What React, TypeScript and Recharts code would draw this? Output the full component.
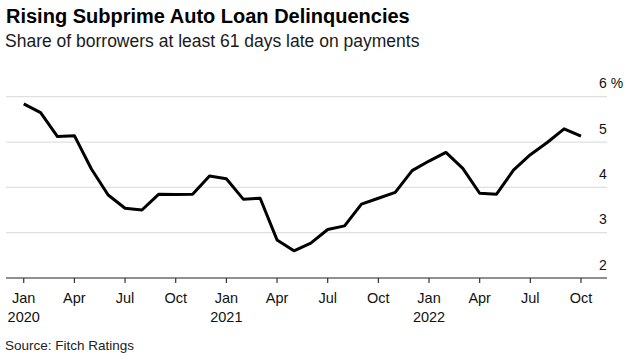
import React from "react";
import { LineChart, Line, XAxis, YAxis, CartesianGrid } from "recharts";

const monthLabels = [
  "Jan 2020", "Feb 2020", "Mar 2020", "Apr 2020", "May 2020", "Jun 2020",
  "Jul 2020", "Aug 2020", "Sep 2020", "Oct 2020", "Nov 2020", "Dec 2020",
  "Jan 2021", "Feb 2021", "Mar 2021", "Apr 2021", "May 2021", "Jun 2021",
  "Jul 2021", "Aug 2021", "Sep 2021", "Oct 2021", "Nov 2021", "Dec 2021",
  "Jan 2022", "Feb 2022", "Mar 2022", "Apr 2022", "May 2022", "Jun 2022",
  "Jul 2022", "Aug 2022", "Sep 2022", "Oct 2022",
];

const delinquencyRate = [
  5.84, 5.65, 5.12, 5.14, 4.41, 3.83, 3.54, 3.5, 3.85, 3.84, 3.85, 4.25,
  4.19, 3.74, 3.76, 2.84, 2.6, 2.77, 3.07, 3.15, 3.63, 3.76, 3.89, 4.37,
  4.58, 4.77, 4.42, 3.87, 3.85, 4.38, 4.72, 4.99, 5.29, 5.13,
];

const xTickIndices = [0, 3, 6, 9, 12, 15, 18, 21, 24, 27, 30, 33];
const yTicks = [2, 3, 4, 5, 6];

const title = "Rising Subprime Auto Loan Delinquencies";
const subtitle = "Share of borrowers at least 61 days late on payments";
const source = "Source: Fitch Ratings";

const data = monthLabels.map((label, i) => ({
  i,
  label,
  value: delinquencyRate[i],
}));

const FONT = '"Liberation Sans", Arial, Helvetica, sans-serif';

const XTick = (props: any) => {
  const { x, payload } = props;
  const label: string = monthLabels[payload.value] || "";
  const [mon, year] = label.split(" ");
  return (
    <g>
      <text x={x} y={303} textAnchor="middle" fontSize={14.5} fill="#111" fontFamily={FONT}>
        {mon}
      </text>
      {mon === "Jan" && (
        <text x={x} y={321.5} textAnchor="middle" fontSize={14.5} fill="#111" fontFamily={FONT}>
          {year}
        </text>
      )}
    </g>
  );
};

const YTick = (props: any) => {
  const { y, payload } = props;
  const v = payload.value;
  return (
    <text x={599} y={y - 8.5} textAnchor="start" fontSize={14} fill="#111" fontFamily={FONT}>
      {v === 6 ? "6 %" : String(v)}
    </text>
  );
};

export default function App() {
  return (
    <div
      style={{
        position: "absolute",
        left: 0,
        top: 0,
        width: 628,
        height: 358,
        background: "#fff",
        fontFamily: FONT,
      }}
    >
      <LineChart
        width={628}
        height={358}
        data={data}
        margin={{ top: 96.7, right: 0, bottom: 0, left: 6 }}
      >
        <CartesianGrid horizontal vertical={false} stroke="#e0e0e0" strokeWidth={1.2} />
        <XAxis
          dataKey="i"
          type="number"
          domain={[-1.05, 34.54]}
          allowDataOverflow
          ticks={xTickIndices}
          interval={0}
          height={80}
          tickSize={5}
          tick={<XTick />}
          axisLine={{ stroke: "#333", strokeWidth: 1.2 }}
          tickLine={{ stroke: "#333", strokeWidth: 1.2 }}
        />
        <YAxis
          orientation="right"
          type="number"
          domain={[2, 6]}
          ticks={yTicks}
          width={21}
          axisLine={false}
          tickLine={false}
          tick={<YTick />}
          allowDataOverflow
        />
        <Line
          type="linear"
          dataKey="value"
          stroke="#000"
          strokeWidth={3}
          dot={false}
          strokeLinejoin="round"
          isAnimationActive={false}
        />
      </LineChart>
      <svg
        width={628}
        height={358}
        style={{ position: "absolute", left: 0, top: 0, pointerEvents: "none" }}
      >
        <text x={6} y={22.7} fontSize={20} fontWeight="bold" fill="#000" fontFamily={FONT}>
          {title}
        </text>
        <text x={5} y={46.7} fontSize={17.5} fill="#1a1a1a" fontFamily={FONT}>
          {subtitle}
        </text>
        <text x={5} y={350} fontSize={13.5} fill="#222" fontFamily={FONT}>
          {source}
        </text>
      </svg>
    </div>
  );
}
